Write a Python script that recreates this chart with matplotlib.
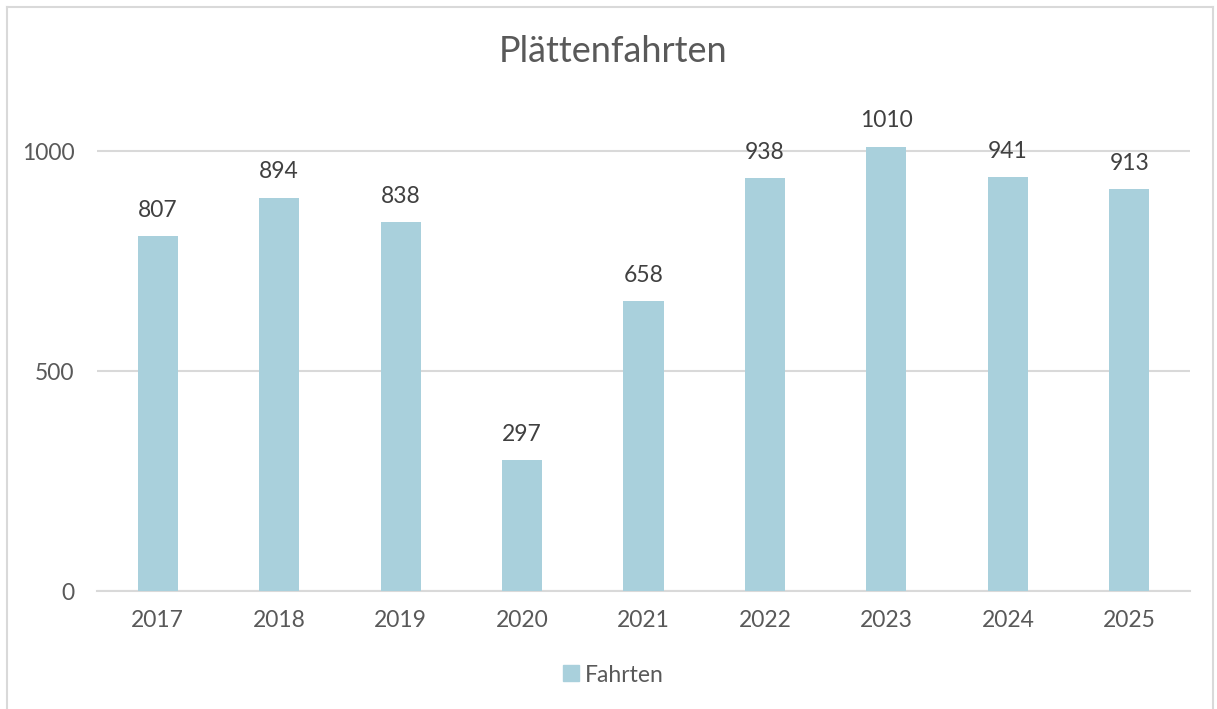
import matplotlib
matplotlib.use("Agg")
import matplotlib.pyplot as plt
from matplotlib.lines import Line2D
import numpy as np

years = ["2017", "2018", "2019", "2020", "2021", "2022", "2023", "2024", "2025"]
fahrten = [807, 894, 838, 297, 658, 938, 1010, 941, 913]
yticks = [0, 500, 1000]

plt.rcParams['font.family'] = ['Lato', 'DejaVu Sans']

W, H = 1217, 709
fig = plt.figure(figsize=(W / 100, H / 100), dpi=100)
fig.patch.set_facecolor('white')

# axes: x 97..1190, y 0 at 591, 1000 at 151
ymax = 1120
ax_left, ax_right = 97, 1190
y0 = 591
ytop = y0 - ymax * 0.44
ax = fig.add_axes([ax_left / W, 1 - y0 / H, (ax_right - ax_left) / W, (y0 - ytop) / H])

x = np.arange(len(years))
bars = ax.bar(x, fahrten, width=0.33, color='#A9D0DC', zorder=3, label='Fahrten')
ax.set_xlim(-0.5, len(years) - 0.5)
ax.set_ylim(0, ymax)
ax.set_yticks(yticks)
ax.set_yticklabels([str(v) for v in yticks])
ax.set_xticks(x)
ax.set_xticklabels(years)
ax.yaxis.grid(True, color='#D9D9D9', linewidth=1.5, zorder=0)
ax.set_axisbelow(True)
for s in ['top', 'right', 'left']:
    ax.spines[s].set_visible(False)
ax.spines['bottom'].set_color('#D9D9D9')
ax.spines['bottom'].set_linewidth(1.5)
ax.tick_params(axis='both', length=0, labelsize=16.5, colors='#595959')
ax.tick_params(axis='y', pad=16)
ax.tick_params(axis='x', pad=14)

for b, v in zip(bars, fahrten):
    ax.annotate(str(v), (b.get_x() + b.get_width() / 2, v), xytext=(0, 11),
                textcoords='offset points', ha='center', va='bottom',
                fontsize=16.5, color='#404040')

fig.text(613 / W, 1 - 52 / H, 'Plättenfahrten', ha='center', va='center',
         fontsize=26, color='#595959')

handle = Line2D([], [], marker='s', linestyle='none', markersize=12,
                markerfacecolor='#A9D0DC', markeredgecolor='#A9D0DC')
fig.legend([handle], ['Fahrten'], loc='center', bbox_to_anchor=(612 / W, 1 - 675 / H),
           frameon=False, fontsize=16.5, labelcolor='#595959', handletextpad=0.1,
           handlelength=1.0)

# outer chart border
bc = '#D9D9D9'
fig.add_artist(Line2D([7 / W, 7 / W], [0, 1 - 7 / H], color=bc, lw=1.5, transform=fig.transFigure))
fig.add_artist(Line2D([7 / W, 1213 / W], [1 - 7 / H, 1 - 7 / H], color=bc, lw=1.5, transform=fig.transFigure))
fig.add_artist(Line2D([1213 / W, 1213 / W], [0, 1 - 7 / H], color=bc, lw=1.5, transform=fig.transFigure))

fig.savefig('out.png', dpi=100, facecolor='white')
